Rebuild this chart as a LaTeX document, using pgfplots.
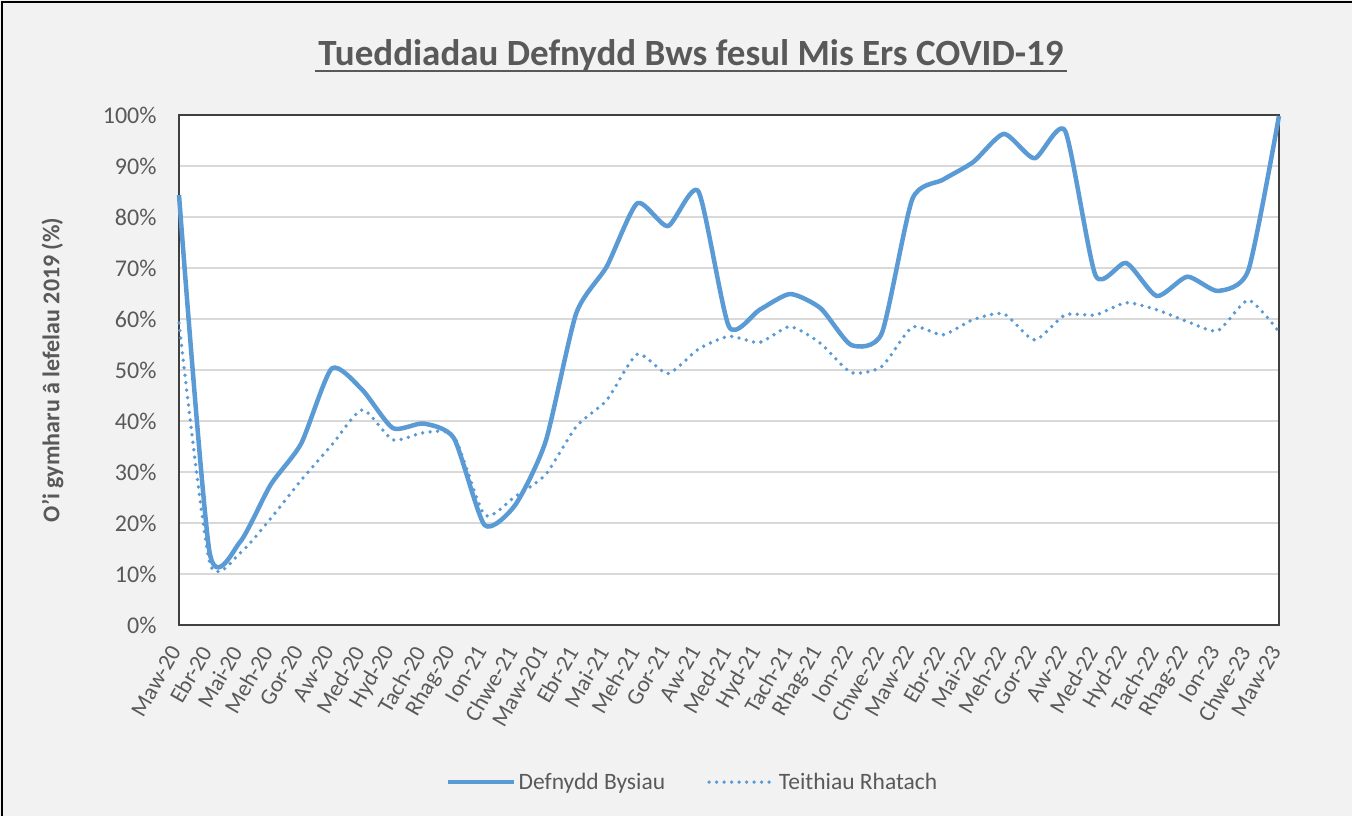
\documentclass[border=0pt]{standalone}
\usepackage{pgfplots}
\pgfplotsset{compat=1.18}
\usepackage{pgfplotstable}
\usepackage{fontspec}
\setmainfont{Carlito}
\definecolor{bgc}{HTML}{F2F2F2}
\definecolor{txt}{HTML}{595959}
\definecolor{lineblue}{HTML}{5B9BD5}
\definecolor{gridc}{HTML}{D9D9D9}
\definecolor{axc}{HTML}{404040}

\pgfplotstableread{
x y
0 84.3
1 14.3
2 16.3
3 27.5
4 35.6
5 50.3
6 46.1
7 38.6
8 39.5
9 36.6
10 19.6
11 23.5
12 36.0
13 61.1
14 70.3
15 82.7
16 78.2
17 85.0
18 58.5
19 61.8
20 64.9
21 62.1
22 54.9
23 57.2
24 83.5
25 87.3
26 90.8
27 96.3
28 91.5
29 96.9
30 68.5
31 71.0
32 64.5
33 68.3
34 65.5
35 69.6
36 99.8
}\bysiau

\pgfplotstableread{
x y
0 59.2
1 12.3
2 14.1
3 20.9
4 28.4
5 35.3
6 42.2
7 36.3
8 37.7
9 37.0
10 21.6
11 25.2
12 29.5
13 38.9
14 44.1
15 53.1
16 49.3
17 54.1
18 56.6
19 55.4
20 58.5
21 55.2
22 49.5
23 50.7
24 58.4
25 56.9
26 59.9
27 61.0
28 55.9
29 60.8
30 60.8
31 63.2
32 61.8
33 59.5
34 57.7
35 63.7
36 57.5
}\rhatach

\begin{document}
\begin{tikzpicture}
\fill[bgc] (0,0) rectangle (1352bp,816bp);
\path[use as bounding box] (0,0) rectangle (1352bp,816bp);
\draw[black, line width=1.5bp] (2bp,0) -- (2bp,814bp) -- (1352bp,814bp);
\node[text=txt, anchor=base, font=\fontsize{37bp}{44bp}\selectfont\bfseries] (t) at (691bp,750bp) {Tueddiadau Defnydd Bws fesul Mis Ers COVID-19};
\draw[txt, line width=1.6bp] ([yshift=-5bp]t.base west) -- ([yshift=-5bp]t.base east);
\begin{axis}[
  at={(179bp,191bp)}, anchor=south west,
  width=1100bp, height=510bp, scale only axis,
  xmin=0, xmax=36, ymin=0, ymax=100,
  clip=false,
  axis background/.style={fill=white},
  axis line style={axc, line width=1.5bp},
  ymajorgrids, grid style={gridc, line width=1.3bp},
  major tick length=0pt,
  ytick={0,10,...,100},
  yticklabels={0\%,10\%,20\%,30\%,40\%,50\%,60\%,70\%,80\%,90\%,100\%},
  xtick={0,...,36},
  xticklabels={Maw-20,Ebr-20,Mai-20,Meh-20,Gor-20,Aw-20,Med-20,Hyd-20,Tach-20,Rhag-20,Ion-21,Chwe-21,Maw-201,Ebr-21,Mai-21,Meh-21,Gor-21,Aw-21,Med-21,Hyd-21,Tach-21,Rhag-21,Ion-22,Chwe-22,Maw-22,Ebr-22,Mai-22,Meh-22,Gor-22,Aw-22,Med-22,Hyd-22,Tach-22,Rhag-22,Ion-23,Chwe-23,Maw-23},
  tick label style={text=txt, font=\fontsize{24bp}{28bp}\selectfont},
  yticklabel style={xshift=-19bp},
  xticklabel style={xshift=-2bp, yshift=-20bp, rotate=60, anchor=east, font=\fontsize{23bp}{27bp}\selectfont},
  ylabel={O'i gymharu â lefelau 2019 (\%)},
  ylabel style={at={(axis description cs:-0.115,0.5)}, anchor=center, text=txt, font=\fontsize{24bp}{28bp}\selectfont\bfseries},
  legend style={at={(axis description cs:0.467,-0.308)}, anchor=center, draw=none, fill=none,
    text=txt, font=\fontsize{23.5bp}{28bp}\selectfont, legend columns=-1,
    /tikz/every even column/.append style={column sep=40bp}},
  legend image code/.code={\draw[#1] (0bp,0bp) -- (66bp,0bp);},
]
\addplot[lineblue, line width=4.5bp, smooth, tension=0.38, line join=round] table[x=x,y=y] {\bysiau};
\addlegendentry{Defnydd Bysiau}
\addplot[lineblue, line width=3.8bp, smooth, tension=0.38, line cap=round, dash pattern=on 0bp off 7.5bp] table[x=x,y=y] {\rhatach};
\addlegendentry{Teithiau Rhatach}
\end{axis}
\end{tikzpicture}
\end{document}
